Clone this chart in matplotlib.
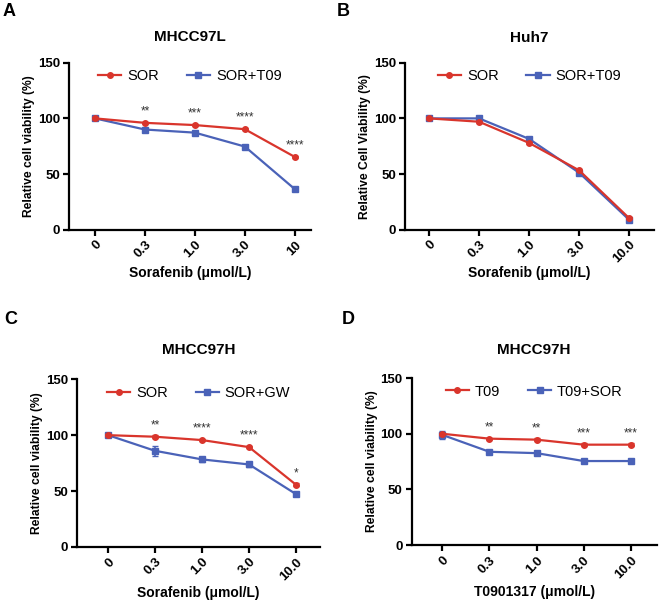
import matplotlib
matplotlib.use('Agg')
import matplotlib.pyplot as plt
from matplotlib.lines import Line2D

plt.rcParams['font.family'] = ['Liberation Sans', 'DejaVu Sans']

RED = '#d9352c'
BLUE = '#4a62b8'

# x categories
doses_a = ['0', '0.3', '1.0', '3.0', '10']
doses = ['0', '0.3', '1.0', '3.0', '10.0']

# panel A - MHCC97L
a_sor = [100, 96, 94, 90.3, 65.4]
a_sor_err = [1, 1, 1, 1, 1]
a_comb = [100, 90, 87.2, 74.7, 36.5]
a_comb_err = [1, 1, 1, 1.2, 1.2]
a_stars = ['', '**', '***', '****', '****']

# panel B - Huh7
b_sor = [100, 97, 78, 53.4, 10.5]
b_sor_err = [1, 1, 1.2, 1, 1]
b_comb = [100, 100, 81.6, 51.3, 9]
b_comb_err = [1, 1, 1.2, 1, 1]
b_stars = ['', '', '', '', '']

# panel C - MHCC97H, SOR vs SOR+GW
c_sor = [100, 98.6, 95.6, 89.3, 55.6]
c_sor_err = [1, 1.5, 1, 1, 1.5]
c_comb = [100, 86, 78.3, 73.8, 47.2]
c_comb_err = [1, 4.5, 2.5, 2.5, 2]
c_stars = ['', '**', '****', '****', '*']

# panel D - MHCC97H, T09 vs T09+SOR
d_t09 = [100, 95.6, 94.7, 90.2, 90.2]
d_t09_err = [1, 1, 1.2, 1.2, 1.2]
d_comb = [99, 83.8, 82.6, 75.5, 75.5]
d_comb_err = [3.7, 1, 1, 1, 1]
d_stars = ['', '**', '**', '***', '***']

panels = [
    dict(letter='A', title='MHCC97L', ticks=doses_a, s1=a_sor, e1=a_sor_err, s2=a_comb, e2=a_comb_err,
         l1='SOR', l2='SOR+T09', stars=a_stars, ylabel='Relative cell viability (%)',
         xlabel='Sorafenib (μmol/L)', rect=[0.104, 0.619, 0.364, 0.277], xlim=(-0.52, 4.32),
         title_off=26, xlab_off=43, letter_xy=(0.004, 0.995)),
    dict(letter='B', title='Huh7', ticks=doses, s1=b_sor, e1=b_sor_err, s2=b_comb, e2=b_comb_err,
         l1='SOR', l2='SOR+T09', stars=b_stars, ylabel='Relative Cell Viability (%)',
         xlabel='Sorafenib (μmol/L)', rect=[0.610, 0.619, 0.375, 0.277], xlim=(-0.48, 4.5),
         title_off=25, xlab_off=43, letter_xy=(0.507, 0.995)),
    dict(letter='C', title='MHCC97H', ticks=doses, s1=c_sor, e1=c_sor_err, s2=c_comb, e2=c_comb_err,
         l1='SOR', l2='SOR+GW', stars=c_stars, ylabel='Relative cell viability (%)',
         xlabel='Sorafenib (μmol/L)', rect=[0.116, 0.093, 0.366, 0.278], xlim=(-0.66, 4.51),
         title_off=29, xlab_off=46, letter_xy=(0.006, 0.485)),
    dict(letter='D', title='MHCC97H', ticks=doses, s1=d_t09, e1=d_t09_err, s2=d_comb, e2=d_comb_err,
         l1='T09', l2='T09+SOR', stars=d_stars, ylabel='Relative cell viability (%)',
         xlabel='T0901317 (μmol/L)', rect=[0.620, 0.096, 0.369, 0.277], xlim=(-0.65, 4.55),
         title_off=28, xlab_off=47, letter_xy=(0.514, 0.485)),
]

W, H = 664, 603
fig = plt.figure(figsize=(W / 100, H / 100), dpi=100)

for p in panels:
    ax = fig.add_axes(p['rect'])
    ax_w = p['rect'][2] * W
    ax_h = p['rect'][3] * H
    x = list(range(len(p['ticks'])))
    ax.errorbar(x, p['s1'], yerr=p['e1'], color=RED, marker='o', ms=4, lw=1.6,
                capsize=2.5, elinewidth=1.2, zorder=3)
    ax.errorbar(x, p['s2'], yerr=p['e2'], color=BLUE, marker='s', ms=4, lw=1.6,
                capsize=2.5, elinewidth=1.2, zorder=2)
    for xi, st, v1, v2 in zip(x, p['stars'], p['s1'], p['s2']):
        if st:
            ax.text(xi, max(v1, v2) + 5, st, ha='center', va='bottom', fontsize=8.5, color='#333333')

    ax.set_ylim(0, 150)
    ax.set_xlim(*p['xlim'])
    ax.set_yticks([0, 50, 100, 150])
    ax.set_xticks(x)
    ax.set_xticklabels(p['ticks'], rotation=45, ha='right', rotation_mode='anchor')
    for lab in ax.get_xticklabels() + ax.get_yticklabels():
        lab.set_fontweight('bold')
        lab.set_fontsize(9.5)
    ax.spines['top'].set_visible(False)
    ax.spines['right'].set_visible(False)
    ax.spines['left'].set_linewidth(1.6)
    ax.spines['bottom'].set_linewidth(1.6)
    ax.tick_params(width=1.6, length=4.5, pad=2)
    ax.set_ylabel(p['ylabel'], fontweight='bold', fontsize=8.7)
    ax.yaxis.set_label_coords(-40 / ax_w, 0.5)
    ax.yaxis.label.set_va('center')
    ax.set_xlabel(p['xlabel'], fontweight='bold', fontsize=10)
    ax.xaxis.set_label_coords(0.5, -p['xlab_off'] / ax_h)
    ax.xaxis.label.set_va('center')
    ax.text(0.5, 1 + p['title_off'] / ax_h, p['title'], transform=ax.transAxes,
            ha='center', va='center', fontweight='bold', fontsize=11)

    handles = [Line2D([], [], color=RED, marker='o', ms=4, lw=1.6),
               Line2D([], [], color=BLUE, marker='s', ms=4, lw=1.6)]
    ax.legend(handles, [p['l1'], p['l2']], loc='upper center', ncol=2, frameon=False,
              fontsize=10.5, handlelength=1.6, columnspacing=1.9, handletextpad=0.4,
              bbox_to_anchor=(0.5, 1.04))

    fig.text(p['letter_xy'][0], p['letter_xy'][1], p['letter'], fontweight='bold',
             fontsize=13, ha='left', va='top')

fig.savefig('out.png', dpi=100)
